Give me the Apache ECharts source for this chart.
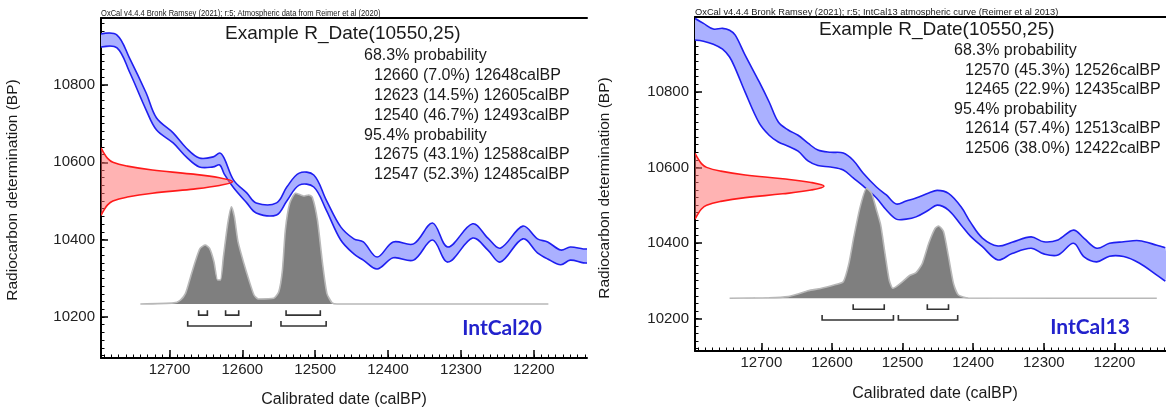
<!DOCTYPE html>
<html><head><meta charset="utf-8">
<script src="https://cdn.jsdelivr.net/npm/echarts@6/dist/echarts.min.js"></script>
<style>html,body{margin:0;padding:0;background:#fff}#c{width:1166px;height:407px}</style>
</head><body><div id="c"></div><script>
// ---------- DATA ----------
const xTickLabels = [12700, 12600, 12500, 12400, 12300, 12200];
const yTickLabels = [10200, 10400, 10600, 10800];

// IntCal20 band (left)
const leftCal   = [12794,12772,12755,12732,12718,12695,12677,12659,12640,12631,12625,12612,12594,12581,12553,12539,12522,12502,12485,12465,12447,12434,12415,12393,12365,12339,12318,12284,12263,12246,12215,12195,12181,12163,12150,12132,12125];
const leftUpper = [10932,10929,10870,10779,10715,10676,10637,10611,10614,10624,10611,10554,10521,10495,10495,10536,10572,10567,10503,10433,10402,10394,10355,10394,10389,10443,10381,10441,10404,10378,10435,10402,10394,10373,10381,10376,10376];
const leftLower = [10898,10896,10834,10735,10684,10650,10614,10588,10588,10593,10570,10534,10495,10469,10464,10500,10541,10536,10477,10399,10363,10347,10324,10353,10347,10399,10342,10404,10373,10342,10402,10366,10350,10335,10347,10340,10340];

// IntCal13 band (right)
const rightCal   = [12794,12782,12768,12755,12745,12737,12723,12703,12689,12676,12662,12648,12634,12620,12602,12584,12570,12556,12537,12523,12509,12495,12481,12463,12451,12435,12417,12404,12387,12365,12345,12318,12300,12280,12258,12243,12225,12207,12187,12165,12140,12128];
const rightUpper = [10994,10981,10966,10968,10963,10950,10897,10826,10773,10720,10699,10685,10664,10646,10640,10638,10619,10585,10548,10527,10503,10511,10519,10532,10539,10531,10495,10455,10413,10392,10402,10416,10403,10408,10434,10412,10386,10399,10403,10406,10394,10387];
const rightLower = [10937,10934,10926,10913,10892,10862,10799,10717,10685,10667,10656,10643,10617,10605,10601,10593,10572,10551,10519,10487,10463,10463,10469,10487,10500,10487,10447,10418,10390,10355,10372,10386,10371,10368,10399,10363,10350,10365,10364,10347,10315,10299];

// Radiocarbon date distribution (relative density vs BP)
const dateBP   = [10637,10625,10610,10600,10590,10580,10570,10560,10550,10540,10530,10520,10510,10500,10490,10475,10463];
const dateDens = [0,0.02,0.05,0.09,0.2,0.39,0.68,0.9,1,0.9,0.68,0.39,0.2,0.09,0.05,0.02,0];

// Calibrated distributions (relative)
const leftDistCal = [12740,12694,12685,12678,12671,12664,12658,12651,12645,12639,12634,12630,12626,12620,12615,12611,12606,12598,12591,12584,12578,12557,12550,12545,12541,12535,12527,12520,12516,12509,12504,12497,12490,12484,12477,12470,12180];
const leftDistP   = [0,0.01,0.036,0.096,0.245,0.395,0.5,0.53,0.5,0.38,0.216,0.216,0.425,0.725,0.874,0.785,0.56,0.366,0.216,0.081,0.045,0.051,0.11,0.305,0.665,0.905,0.995,0.98,0.97,0.98,0.96,0.755,0.366,0.096,0.012,0,0];
const rightDistCal = [12745,12689,12662,12648,12634,12615,12597,12584,12576,12569,12560,12551,12544,12537,12531,12525,12519,12514,12509,12500,12491,12481,12472,12463,12454,12449,12442,12435,12428,12421,12407,12140];
const rightDistP   = [0,0.005,0.015,0.039,0.069,0.091,0.121,0.151,0.318,0.56,0.833,1,0.955,0.803,0.666,0.409,0.166,0.091,0.106,0.151,0.203,0.233,0.318,0.5,0.636,0.657,0.605,0.378,0.136,0.03,0.003,0];

// Ranges
const leftRanges68  = [[12660,12648],[12623,12605],[12540,12493]];
const leftPct68     = ['7.0','14.5','46.7'];
const leftRanges95  = [[12675,12588],[12547,12485]];
const leftPct95     = ['43.1','52.3'];
const rightRanges68 = [[12570,12526],[12465,12435]];
const rightPct68    = ['45.3','22.9'];
const rightRanges95 = [[12614,12513],[12506,12422]];
const rightPct95    = ['57.4','38.0'];

const titleText = 'Example R_Date(10550,25)';
const leftHeader  = 'OxCal v4.4.4 Bronk Ramsey (2021); r:5; Atmospheric data from Reimer et al (2020)';
const rightHeader = 'OxCal v4.4.4 Bronk Ramsey (2021); r:5; IntCal13 atmospheric curve (Reimer et al 2013)';
const yTitle = 'Radiocarbon determination (BP)';
const xTitle = 'Calibrated date (calBP)';

// ---------- LAYOUT ----------
const FONT = "'Liberation Sans', Arial, sans-serif";
const BLUE_LINE = '#1e1ef0', BLUE_FILL = '#aab0ff';
const panels = [
  {grid:{left:101, top:18, width:486, height:340}, yMin:10094, yMax:10973, gMax:3.69, pMin:-0.485, pMax:2.57,
   cal:leftCal, up:leftUpper, lo:leftLower, dCal:leftDistCal, dP:leftDistP, r68:leftRanges68, r95:leftRanges95},
  {grid:{left:695, top:17, width:481, height:334}, yMin:10114, yMax:10998, gMax:3.652, pMin:-0.479, pMax:2.557,
   cal:rightCal, up:rightUpper, lo:rightLower, dCal:rightDistCal, dP:rightDistP, r68:rightRanges68, r95:rightRanges95}
];
const X_MIN = 12127, X_MAX = 12794;
const minorX = []; for (let v = 12130; v <= 12790; v += 10) minorX.push(v);
const minorY = []; for (let v = 10100; v <= 11000; v += 20) minorY.push(v);

const grids = [], xAxes = [], yAxes = [], series = [];
const axisLineStyle = {color:'#000', width:2};
panels.forEach((p, i) => {
  grids.push(Object.assign({containLabel:false}, p.grid));
  // x axes
  xAxes.push({type:'value', gridIndex:i, position:'bottom', min:X_MIN, max:X_MAX, inverse:true,
    axisLine:{show:true, onZero:false, lineStyle:axisLineStyle},
    axisTick:{show:true, inside:true, length:8, customValues:xTickLabels, lineStyle:{color:'#000', width:1.5}},
    axisLabel:{show:true, customValues:xTickLabels, formatter:v=>String(v), fontSize:15, fontFamily:FONT, color:'#222', margin:4},
    splitLine:{show:false}});
  xAxes.push({type:'value', gridIndex:i, position:'bottom', min:X_MIN, max:X_MAX, inverse:true,
    axisLine:{show:false, onZero:false}, axisLabel:{show:false}, splitLine:{show:false},
    axisTick:{show:true, inside:true, length:3.5, customValues:minorX, lineStyle:{color:'#000', width:1}}});
  xAxes.push({type:'value', gridIndex:i, position:'top', min:0, max:p.gMax,
    axisLine:{show:true, onZero:false, lineStyle:axisLineStyle}, axisTick:{show:false}, axisLabel:{show:false}, splitLine:{show:false}});
  // y axes
  yAxes.push({type:'value', gridIndex:i, position:'left', min:p.yMin, max:p.yMax,
    axisLine:{show:true, onZero:false, lineStyle:axisLineStyle},
    axisTick:{show:true, inside:true, length:7, customValues:yTickLabels, lineStyle:{color:'#000', width:1.5}},
    axisLabel:{show:true, customValues:yTickLabels, formatter:v=>String(v), fontSize:15, fontFamily:FONT, color:'#222', margin:6},
    splitLine:{show:false}});
  yAxes.push({type:'value', gridIndex:i, position:'left', min:p.yMin, max:p.yMax,
    axisLine:{show:false, onZero:false}, axisLabel:{show:false}, splitLine:{show:false},
    axisTick:{show:true, inside:true, length:3.5, customValues:minorY, lineStyle:{color:'#000', width:1}}});
  yAxes.push({type:'value', gridIndex:i, position:'right', min:p.pMin, max:p.pMax, show:false, axisLine:{onZero:false}});

  const xi = 3*i, yi = 3*i;
  // calibration curve band
  series.push({type:'custom', xAxisIndex:xi, yAxisIndex:yi, clip:true, z:2, silent:true,
    data:[[p.cal[0], p.up[0]]],
    renderItem:(params, api) => {
      const U = p.cal.map((c,k)=>api.coord([c, p.up[k]]));
      const L = p.cal.map((c,k)=>api.coord([c, p.lo[k]]));
      return {type:'group', children:[
        {type:'polygon', shape:{points:U.concat(L.slice().reverse()), smooth:0.35}, style:{fill:BLUE_FILL, stroke:null}},
        {type:'polyline', shape:{points:U, smooth:0.35}, style:{stroke:BLUE_LINE, lineWidth:1.6, fill:null}},
        {type:'polyline', shape:{points:L, smooth:0.35}, style:{stroke:BLUE_LINE, lineWidth:1.6, fill:null}}
      ]};
    }});
  // calibrated distribution
  series.push({type:'line', xAxisIndex:xi, yAxisIndex:yi+2, z:3, silent:true, symbol:'none', smooth:0.2,
    data:p.dCal.map((c,k)=>[c, p.dP[k]]),
    lineStyle:{color:'#b8b8b8', width:1.6}, areaStyle:{color:'#7f7f7f', opacity:1}});
  // range brackets
  const br = p.r68.map(r=>[r[0], r[1], -0.1]).concat(p.r95.map(r=>[r[0], r[1], -0.197]));
  series.push({type:'custom', xAxisIndex:xi, yAxisIndex:yi+2, z:3, silent:true,
    encode:{x:[0,1], y:2}, data:br,
    renderItem:(params, api) => {
      const a = api.coord([api.value(0), api.value(2)]);
      const b = api.coord([api.value(1), api.value(2)]);
      const t = a[1] - 5;
      return {type:'polyline', shape:{points:[[a[0],t],[a[0],a[1]],[b[0],b[1]],[b[0],t]]},
        style:{stroke:'#333', lineWidth:1.6, fill:null}};
    }});
  // radiocarbon date distribution on y axis
  series.push({type:'custom', xAxisIndex:xi+2, yAxisIndex:yi, clip:true, z:4, silent:true,
    data:[[dateDens[0], dateBP[0]]],
    renderItem:(params, api) => {
      const pts = dateBP.map((b,k)=>api.coord([dateDens[k], b]));
      return {type:'group', children:[
        {type:'polygon', shape:{points:pts, smooth:0.4}, style:{fill:'rgba(255,110,110,0.52)', stroke:null}},
        {type:'polyline', shape:{points:pts, smooth:0.4}, style:{stroke:'#ff1a1a', lineWidth:1.6, fill:null}}
      ]};
    }});
});

// ---------- TEXT ----------
function txt(x, y, s, font, opts) {
  return {type:'text', x:x, y:y, z:100, silent:true,
    style:Object.assign({text:s, font:font, fill:'#1a1a1a', textAlign:'left', textVerticalAlign:'middle'}, (opts||{}))};
}
const lineTxt = (r, pct) => r[0] + ' (' + pct + '%) ' + r[1] + 'calBP';
const g = [];
// left panel
g.push(Object.assign(txt(101, 14, leftHeader, "9px " + FONT), {scaleX:0.84}));
g.push(txt(225, 34, titleText, "19px " + FONT));
const lY = [56, 75.8, 95.6, 115.4, 135.2, 155, 174.8];
g.push(txt(364, lY[0], '68.3% probability', "16px " + FONT));
leftRanges68.forEach((r,k)=>g.push(txt(374, lY[1+k], lineTxt(r, leftPct68[k]), "16px " + FONT)));
g.push(txt(364, lY[4], '95.4% probability', "16px " + FONT));
leftRanges95.forEach((r,k)=>g.push(txt(374, lY[5+k], lineTxt(r, leftPct95[k]), "16px " + FONT)));
// right panel
g.push(txt(695, 12.5, rightHeader, "9.3px " + FONT));
g.push(txt(819, 30, titleText, "19px " + FONT));
const rY = [50.5, 70.1, 89.7, 109.3, 128.9, 148.5];
g.push(txt(954, rY[0], '68.3% probability', "16px " + FONT));
rightRanges68.forEach((r,k)=>g.push(txt(965, rY[1+k], lineTxt(r, rightPct68[k]), "16px " + FONT)));
g.push(txt(954, rY[3], '95.4% probability', "16px " + FONT));
rightRanges95.forEach((r,k)=>g.push(txt(965, rY[4+k], lineTxt(r, rightPct95[k]), "16px " + FONT)));
// curve names
g.push(txt(502, 328, 'IntCal20', "bold 21px Lato, 'Open Sans', sans-serif", {fill:'#2222cc', textAlign:'center'}));
g.push(txt(1090, 327, 'IntCal13', "bold 21px Lato, 'Open Sans', sans-serif", {fill:'#2222cc', textAlign:'center'}));
// axis titles
g.push(Object.assign(txt(13, 190, yTitle, "15.5px " + FONT, {textAlign:'center'}), {rotation:Math.PI/2}));
g.push(Object.assign(txt(605, 188, yTitle, "15.5px " + FONT, {textAlign:'center'}), {rotation:Math.PI/2}));
g.push(txt(344, 400, xTitle, "16px " + FONT, {textAlign:'center'}));
g.push(txt(935, 394, xTitle, "16px " + FONT, {textAlign:'center'}));

const chart = echarts.init(document.getElementById('c'), null, {renderer:'canvas'});
chart.setOption({animation:false, backgroundColor:'#fff', grid:grids, xAxis:xAxes, yAxis:yAxes, series:series, graphic:{elements:g}});
</script></body></html>
